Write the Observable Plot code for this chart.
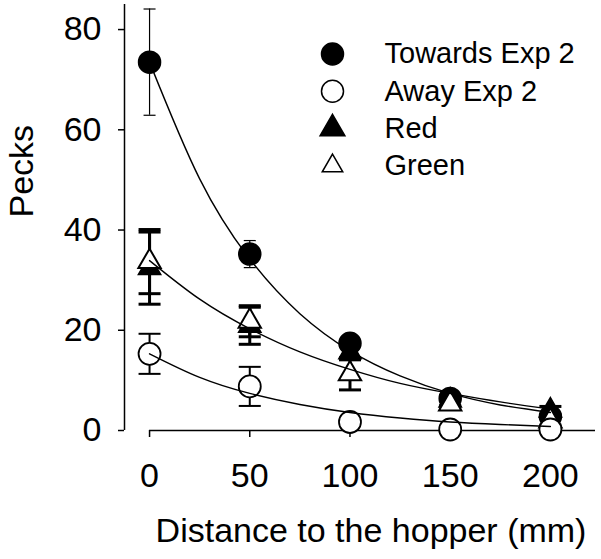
<!DOCTYPE html>
<html>
<head>
<meta charset="utf-8">
<script src="https://cdn.jsdelivr.net/npm/d3@7"></script>
<script src="https://cdn.jsdelivr.net/npm/@observablehq/plot@0.6"></script>
<style>
  html, body { margin: 0; padding: 0; background: #fff; }
  #chart svg { display: block; }
</style>
</head>
<body>
<div id="chart"></div>
<script>
// ---- data ----
const distances = [0, 50, 100, 150, 200];
const towards    = [73.5, 35.2, 17.4, 6.4, 2.8];
const towardsErr = [10.6, 2.7, 1.0, 0.8, 0.5];
const away       = [15.3, 8.8, 1.7, 0.2, 0.2];
const awayErr    = [4.0, 3.9, 0.8, 0.4, 0.3];
const red        = [32.4, 20.9, 15.6, 6.0, 4.0];
const redErr     = [7.2, 3.7, 1.5, 1.0, 0.8];
const green      = [33.7, 21.8, 11.3, 5.3, 1.9];
const greenErr   = [6.4, 3.1, 3.2, 1.0, 0.8];

// fitted curves, read at regular distances
const fitX        = [0, 25, 50, 75, 100, 125, 150, 175, 200];
const towardsFit  = [73.5, 50.2, 34.2, 23.3, 15.9, 10.9, 7.4, 5.1, 3.6];
const colourFit   = [33.9, 26.2, 20.3, 15.7, 12.2, 9.4, 7.4, 5.7, 4.3];
const awayFit     = [15.3, 10.6, 7.4, 5.2, 3.6, 2.5, 1.7, 1.2, 0.8];

const legendLabels = ["Towards Exp 2", "Away Exp 2", "Red", "Green"];
const xTicks = [0, 50, 100, 150, 200];
const yTicks = [0, 20, 40, 60, 80];
const xDomain = [-12.5, 222.5];
const yDomain = [0, 85];

// ---- helpers ----
const rows = (ys, errs) => distances.map((x, i) => ({x, y: ys[i], lo: ys[i] - errs[i], hi: ys[i] + errs[i]}));
const fitRows = (ys) => fitX.map((x, i) => ({x, y: ys[i]}));
const hline = {draw(ctx, size) { const r = Math.sqrt(size / Math.PI); ctx.moveTo(-r, 0); ctx.lineTo(r, 0); }};

function errorBars(data, width, capR) {
  return [
    Plot.ruleX(data, {x: "x", y1: "lo", y2: "hi", stroke: "black", strokeWidth: width}),
    Plot.dot(data, {x: "x", y: "lo", symbol: hline, r: capR, stroke: "black", strokeWidth: width, fill: "none"}),
    Plot.dot(data, {x: "x", y: "hi", symbol: hline, r: capR, stroke: "black", strokeWidth: width, fill: "none"})
  ];
}

const tD = rows(towards, towardsErr);
const aD = rows(away, awayErr);
const rD = rows(red, redErr);
const gD = rows(green, greenErr);

const legendSpec = [
  {symbol: "circle", r: 11, fill: "black", stroke: "black"},
  {symbol: "circle", r: 11, fill: "white", stroke: "black"},
  {symbol: "triangle", r: 9.2, fill: "black", stroke: "black"},
  {symbol: "triangle", r: 7.6, fill: "white", stroke: "black"}
];

const legendMarks = legendLabels.flatMap((label, i) => [
  Plot.dot([label], {frameAnchor: "top-left", dx: 208, dy: 49.5 + 37.3 * i,
    symbol: legendSpec[i].symbol, r: legendSpec[i].r, fill: legendSpec[i].fill,
    stroke: legendSpec[i].stroke, strokeWidth: 1.5}),
  Plot.text([label], {frameAnchor: "top-left", dx: 260, dy: 49.5 + 37.3 * i,
    text: d => d, textAnchor: "start", lineAnchor: "middle", fontSize: 29, fill: "black"})
]);

const chart = Plot.plot({
  width: 601,
  height: 559,
  marginLeft: 124,
  marginRight: 6,
  marginTop: 4,
  marginBottom: 129,
  x: {domain: xDomain},
  y: {domain: yDomain},
  style: {fontFamily: "'Liberation Sans', Arial, sans-serif", fontSize: "34px", background: "white", color: "black"},
  marks: [
    Plot.ruleX([xDomain[0]], {stroke: "black", strokeWidth: 1.5}),
    Plot.ruleY([0], {x1: 0, x2: xDomain[1], stroke: "black", strokeWidth: 1.5}),
    Plot.axisY({ticks: yTicks, tickSize: 6, tickPadding: 17, label: null, strokeWidth: 1.5, fontSize: 34}),
    Plot.axisX({ticks: xTicks, tickSize: 7, tickPadding: 25, label: null, strokeWidth: 1.5, fontSize: 34}),
    Plot.text(["Pecks"], {frameAnchor: "left", dx: -102, rotate: -90, text: d => d, lineAnchor: "middle", fontSize: 34, fill: "black"}),
    Plot.text(["Distance to the hopper (mm)"], {frameAnchor: "bottom", dx: 11, dy: 101, text: d => d, lineAnchor: "middle", fontSize: 34, fill: "black"}),

    ...errorBars(tD, 1.2, 6),
    Plot.dot(tD, {x: "x", y: "y", r: 11, fill: "black", stroke: "black"}),
    ...errorBars(rD, 3, 11),
    Plot.dot(rD, {x: "x", y: "y", symbol: "triangle", r: 8.3, fill: "black", stroke: "black", strokeWidth: 1.5}),
    ...errorBars(gD, 3, 11),
    Plot.dot(gD, {x: "x", y: "y", symbol: "triangle", r: 8.3, fill: "white", stroke: "black", strokeWidth: 2}),
    ...errorBars(aD, 2, 11),
    Plot.dot(aD, {x: "x", y: "y", r: 11, fill: "white", stroke: "black", strokeWidth: 1.8}),

    Plot.line(fitRows(towardsFit), {x: "x", y: "y", curve: "natural", stroke: "black", strokeWidth: 1.4}),
    Plot.line(fitRows(colourFit), {x: "x", y: "y", curve: "natural", stroke: "black", strokeWidth: 1.4}),
    Plot.line(fitRows(awayFit), {x: "x", y: "y", curve: "natural", stroke: "black", strokeWidth: 1.4}),

    ...legendMarks
  ]
});

document.getElementById("chart").appendChild(chart);
</script>
</body>
</html>
